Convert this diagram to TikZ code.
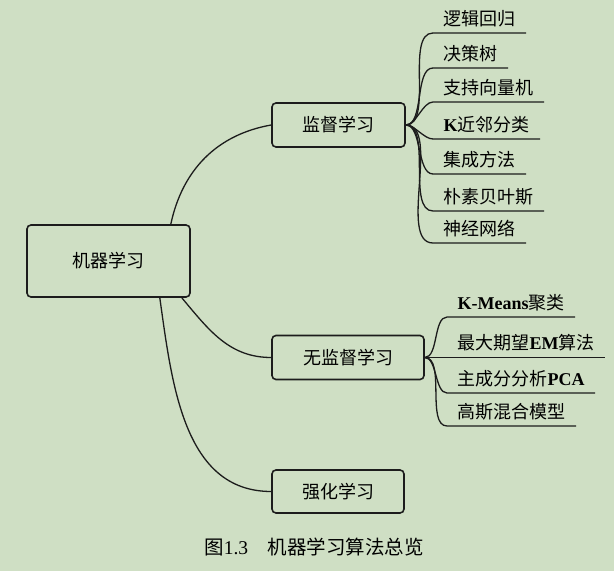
\documentclass[tikz,border=0pt]{standalone}
\usepackage{fontspec}
\setmainfont{Noto Sans CJK SC}
\newfontfamily\latinfont{Liberation Serif}
\usetikzlibrary{positioning,calc}
\definecolor{bgpaper}{RGB}{207,223,196}
\definecolor{inkline}{RGB}{28,28,28}
\tikzset{
  every picture/.style={line width=1.2pt, x=1pt, y=1pt},
  sbox/.style={draw=inkline, rounded corners=4pt, line width=1.6pt,
               inner sep=0pt, font=\fontsize{18}{20}\selectfont},
  sroot/.style={sbox, minimum width=163pt, minimum height=72pt},
  scat/.style={sbox, minimum height=44pt},
  sleaf/.style={anchor=south west, inner xsep=10pt, inner ysep=0pt,
                text height=16pt, text depth=7pt,
                font=\fontsize{18}{20}\selectfont},
  sbranch/.style={draw=inkline, line width=1.3pt},
  scaption/.style={font=\fontsize{19.5}{22}\selectfont},
}
\newcommand{\en}[1]{{\latinfont\bfseries #1}}

\begin{document}
\begin{tikzpicture}
  \fill[bgpaper] (0,0) rectangle (614,571);
  \useasboundingbox (0,0) rectangle (614,571);

  \node[sroot] (ml) at (108.5,310) {机器学习};
  \node[scat, minimum width=133pt] (sup) at (338.5,446) {监督学习\hspace{10pt}};
  \node[scat, minimum width=152pt] (unsup) at (348,213.5) {无监督学习\hspace{10pt}};
  \node[scat, minimum width=132pt, minimum height=43pt] (rl) at (338,79.5) {强化学习\hspace{10pt}};

  \draw[sbranch] ([xshift=-20pt]ml.north east) to[out=78,in=190] (sup.west);
  \draw[sbranch] ([xshift=-9pt]ml.south east) to[out=-50,in=180] (unsup.west);
  \draw[sbranch] ([xshift=-31pt]ml.south east) to[out=-82,in=180] (rl.west);

  % supervised leaves
  \foreach \n/\y/\t in {s1/538/逻辑回归, s2/503/决策树, s3/469/支持向量机,
      s4/432/\en{K}近邻分类, s5/397/集成方法, s6/360/朴素贝叶斯, s7/328/神经网络} {
    \node[sleaf] (\n) at (433,\y) {\t};
    \draw[sbranch] (sup.east) to[out=0,in=180,looseness=0.75] (\n.south west)
      -- (\n.south east);
  }

  % unsupervised leaves
  \foreach \n/\y/\t in {u1/254/\en{K-Means}聚类, u2/213.5/最大期望\en{EM}算法,
      u3/178/主成分分析\en{PCA}, u4/145/高斯混合模型} {
    \node[sleaf] (\n) at (447,\y) {\t};
    \draw[sbranch] (unsup.east) to[out=0,in=180,looseness=0.75] (\n.south west)
      -- (\n.south east);
  }

  \node[scaption] (cap) at (314,24) {图{\latinfont 1.3}\hspace{1em}机器学习算法总览};
\end{tikzpicture}
\end{document}
